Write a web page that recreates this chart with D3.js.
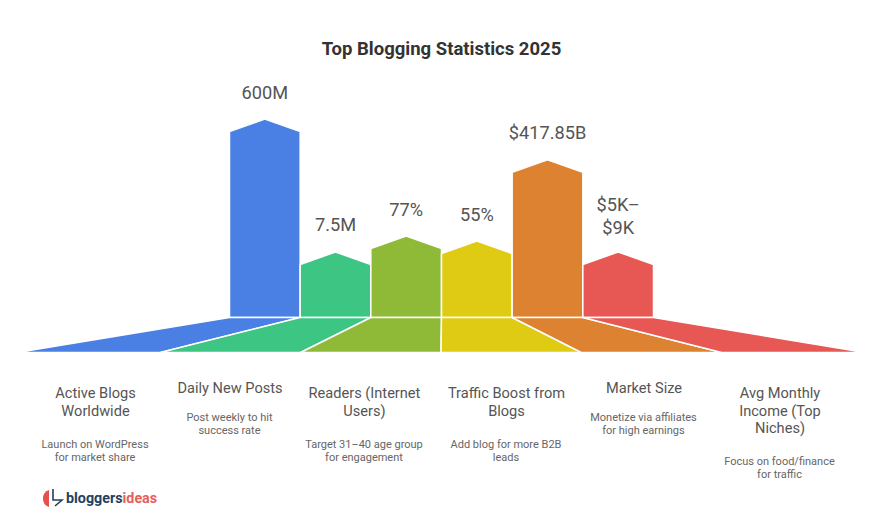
<!DOCTYPE html>
<html>
<head>
<meta charset="utf-8">
<script src="https://cdn.jsdelivr.net/npm/d3@7"></script>
<style>
  html, body { margin: 0; padding: 0; background: #fff; }
  svg { display: block; }
  text { font-family: Roboto, sans-serif; text-anchor: middle; }
</style>
</head>
<body>
<svg id="chart" width="884" height="513"></svg>
<script>
// chart data
var categories = ['Active Blogs Worldwide', 'Daily New Posts', 'Readers (Internet Users)',
                  'Traffic Boost from Blogs', 'Market Size', 'Avg Monthly Income (Top Niches)'];
// bar heights are not to value scale in the original, so relative height (tallest = 100)
var barHeights = [100, 33, 41, 38.5, 79.5, 33];
var valueLabels = [['600M'], ['7.5M'], ['77%'], ['55%'], ['$417.85B'], ['$5K–', '$9K']];
var categoryLines = [
    ['Active Blogs', 'Worldwide'],
    ['Daily New Posts'],
    ['Readers (Internet', 'Users)'],
    ['Traffic Boost from', 'Blogs'],
    ['Market Size'],
    ['Avg Monthly', 'Income (Top', 'Niches)']
];
var tipLines = [
    ['Launch on WordPress', 'for market share'],
    ['Post weekly to hit', 'success rate'],
    ['Target 31–40 age group', 'for engagement'],
    ['Add blog for more B2B', 'leads'],
    ['Monetize via affiliates', 'for high earnings'],
    ['Focus on food/finance', 'for traffic']
];
var colors = ['#4a80e4', '#3dc583', '#8fba38', '#e0cb14', '#dd8230', '#e75753'];

// layout
var baseY = 317.5, fanTop = 317.5, fanBottom = 352.5, tipInset = -3, shoulder = 12.5;
var textCenters = [95.5, 230, 364.5, 506.5, 644, 780];

var svg = d3.select('#chart');

var x = d3.scaleBand().domain(categories).range([229.5, 653.5]);
var fanX = d3.scaleBand().domain(categories).range([20, 862]);
var y = d3.scaleLinear().domain([0, 100]).range([baseY, 119]);
var line = d3.line();

svg.append('text')
    .attr('x', 441.5).attr('y', 55)
    .style('font-size', '18.5px').style('font-weight', 700).attr('fill', '#333')
    .text('Top Blogging Statistics 2025');

// house shaped bars
svg.selectAll('.bar')
    .data(categories)
    .enter().append('path')
    .attr('class', 'bar')
    .attr('fill', function(d, i) { return colors[i]; })
    .attr('stroke', '#fff').attr('stroke-width', 1.5)
    .attr('d', function(d, i) {
        var x0 = x(d), x1 = x0 + x.bandwidth(), top = y(barHeights[i]);
        return line([[x0, baseY], [x0, top + shoulder], [(x0 + x1) / 2, top],
                     [x1, top + shoulder], [x1, baseY]]) + 'Z';
    });

// fan below the bars
svg.selectAll('.fan')
    .data(categories)
    .enter().append('path')
    .attr('class', 'fan')
    .attr('fill', function(d, i) { return colors[i]; })
    .attr('stroke', '#fff').attr('stroke-width', 1.5)
    .attr('d', function(d, i) {
        var x0 = fanX(d), x1 = x0 + fanX.bandwidth();
        if (i === 0) x0 += tipInset;
        if (i === categories.length - 1) x1 -= tipInset;
        return line([[x(d), fanTop], [x(d) + x.bandwidth(), fanTop], [x1, fanBottom], [x0, fanBottom]]) + 'Z';
    });

// value labels above each bar
categories.forEach(function(d, i) {
    var lines = valueLabels[i],
        lastY = y(barHeights[i]) - (lines.length > 1 ? 18 : 20.5);
    lines.forEach(function(t, j) {
        svg.append('text')
            .attr('x', x(d) + x.bandwidth() / 2)
            .attr('y', lastY - (lines.length - 1 - j) * 22.5)
            .style('font-size', '18.2px').attr('fill', '#555')
            .text(t);
    });
});

// category name and tip under the fan
categories.forEach(function(d, i) {
    var names = categoryLines[i], tips = tipLines[i],
        nameY = names.length > 1 ? 398 : 393,
        tipY = nameY + (names.length - 1) * 17.5 + (names.length > 1 ? 33 : 28.5) - 1;
    names.forEach(function(t, j) {
        svg.append('text')
            .attr('x', textCenters[i]).attr('y', nameY + j * 17.5)
            .style('font-size', '14.6px').attr('fill', '#555')
            .text(t);
    });
    tips.forEach(function(t, j) {
        svg.append('text')
            .attr('x', textCenters[i] - 0.5).attr('y', tipY + j * 13.3)
            .style('font-size', '11px').attr('fill', '#666')
            .text(t);
    });
});

// logo
var logo = svg.append('g');
logo.append('path').attr('fill', '#e5504c')
    .attr('d', 'M49,490 A9,9 0 0 0 49,507 Z');
logo.append('path').attr('fill', 'none').attr('stroke', '#243f5f').attr('stroke-width', 1.6)
    .attr('d', 'M53,489 V500 H62 L55,506');
var logoText = logo.append('text').attr('x', 66).attr('y', 503)
    .style('text-anchor', 'start').style('font-size', '14.3px').style('font-weight', 700);
logoText.append('tspan').attr('fill', '#243f5f').text('bloggers');
logoText.append('tspan').attr('fill', '#e5605c').text('ideas');
</script>
</body>
</html>
